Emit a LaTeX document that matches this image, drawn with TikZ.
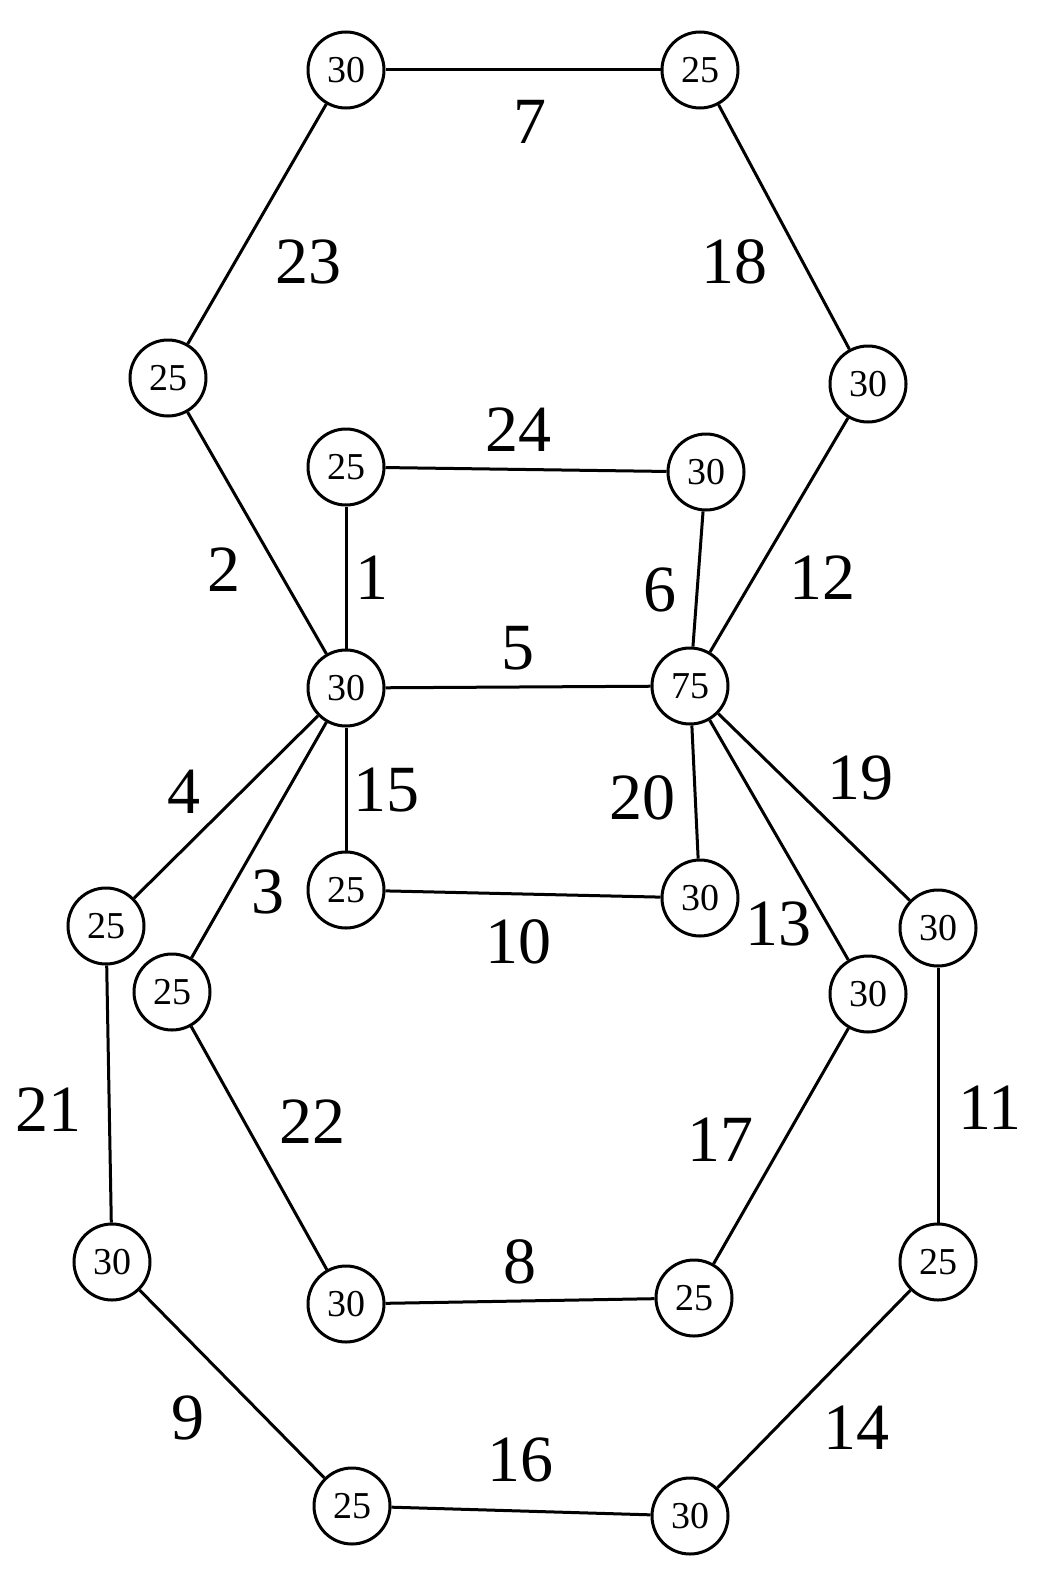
\documentclass[tikz,border=0pt]{standalone}
\usepackage{fontspec}
\setmainfont{Liberation Serif}
\begin{document}
\begin{tikzpicture}[x=1pt,y=-1pt,
  v/.style={circle,draw,line width=3pt,minimum size=76pt,inner sep=0pt,font=\fontsize{38}{38}\selectfont},
  e/.style={line width=3pt},
  lb/.style={font=\fontsize{66}{66}\selectfont}]
\useasboundingbox (0,0) rectangle (1052,1595);
\node[v] (A) at (346,70) {30};
\node[v] (B) at (700,70) {25};
\node[v] (C) at (168,378) {25};
\node[v] (D) at (868,384) {30};
\node[v] (E) at (346,467) {25};
\node[v] (F) at (706,472) {30};
\node[v] (G) at (346,688) {30};
\node[v] (H) at (690,686) {75};
\node[v] (I) at (346,890) {25};
\node[v] (J) at (700,898) {30};
\node[v] (K) at (106,926) {25};
\node[v] (L) at (172,992) {25};
\node[v] (M) at (938,928) {30};
\node[v] (N) at (868,994) {30};
\node[v] (O) at (112,1262) {30};
\node[v] (P) at (346,1304) {30};
\node[v] (Q) at (694,1298) {25};
\node[v] (R) at (938,1262) {25};
\node[v] (S) at (352,1506) {25};
\node[v] (T) at (690,1516) {30};
\foreach \a/\b in {A/B,A/C,B/D,C/G,E/F,E/G,F/H,D/H,G/H,G/I,H/J,I/J,G/K,G/L,H/N,H/M,K/O,L/P,N/Q,M/R,P/Q,O/S,S/T,R/T}
  \draw[e] (\a) -- (\b);
\foreach \t/\x/\y in {7/530/122,23/308/262,18/734/262,24/518/430,2/224/570,1/372/578,6/660/590,12/822/578,5/518/648,4/184/792,15/386/790,20/642/798,19/860/778,3/268/892,10/518/942,13/778/924,21/48/1110,22/312/1122,17/720/1140,11/990/1108,8/520/1262,9/188/1418,16/520/1460,14/856/1428}
  \node[lb] (l\t) at (\x,\y) {\t};
\end{tikzpicture}
\end{document}
